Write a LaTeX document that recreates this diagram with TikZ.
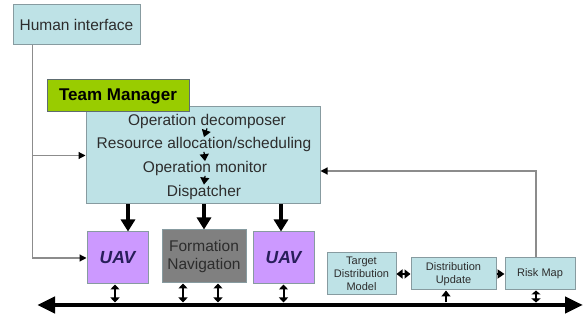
\documentclass[tikz,border=0pt]{standalone}
\usepackage{fontspec}
\setmainfont{Liberation Sans}
\usetikzlibrary{positioning, arrows.meta}
\definecolor{boxcyan}{RGB}{190,226,230}
\definecolor{boxedge}{RGB}{135,155,160}
\definecolor{tmgreen}{RGB}{153,204,0}
\definecolor{uavviolet}{RGB}{204,153,255}
\definecolor{fngray}{RGB}{128,128,128}
\definecolor{textgray}{RGB}{45,45,45}
\definecolor{uavtext}{RGB}{40,30,90}
\definecolor{wiregray}{RGB}{140,140,140}
\tikzset{
    box/.style={draw=boxedge, line width=1pt, fill=boxcyan, text=textgray, align=center, inner sep=0pt}, % plain cyan blocks
    tmbox/.style={draw=boxedge!70!black, line width=1pt, fill=tmgreen, inner sep=0pt,
        minimum width=142pt, minimum height=32pt, font=\fontsize{17}{20}\selectfont\bfseries},
    uavbox/.style={box, fill=uavviolet, text=uavtext, minimum width=61pt, minimum height=52pt,
        font=\fontsize{17.5}{20}\selectfont\bfseries\itshape},
    stepline/.style={inner sep=0pt, text=textgray, font=\fontsize{15.5}{18}\selectfont}, % lines in the manager
    small/.style={font=\fontsize{11}{13}\selectfont},
    feed/.style={draw=wiregray, line width=1.2pt, -{Triangle[length=7pt,width=7pt,color=black]}},
    inner/.style={line width=1.2pt, -{Triangle[length=7pt,width=9pt]}},
    down/.style={line width=4pt, -{Triangle[length=12pt,width=14pt]}},
    buslink/.style={line width=2pt, {Triangle[length=5pt,width=9pt]}-{Triangle[length=5pt,width=9pt]}, shorten >=2.5pt},
    busup/.style={line width=2pt, -{Triangle[length=6pt,width=9pt]}, shorten <=2.5pt},
}
\begin{document}
\begin{tikzpicture}[x=1pt, y=-1pt]
\useasboundingbox (0,0) rectangle (584,320);

% top and manager
\node[box, minimum width=127pt, minimum height=40pt, font=\fontsize{15.5}{18}\selectfont] (hi) at (76.5,25) {Human interface};
\node[box, minimum width=234pt, minimum height=97pt] (main) at (203,155.5) {};
\node[tmbox] (tm) at (118,96) {Team Manager};

\node[stepline] (decomp) at (207,121) {Operation decomposer};
\node[stepline] (alloc) at (204,144.5) {Resource allocation/scheduling};
\node[stepline] (monitor) at (205,168.5) {Operation monitor};
\node[stepline] (dispatch) at (204,192) {Dispatcher};
\draw[inner] (decomp.south) -- (alloc.north);
\draw[inner] (alloc.south) -- (monitor.north);
\draw[inner] (monitor.south) -- (dispatch.north);

% vehicles
\node[uavbox] (uav1) at (117.5,258) {UAV};
\node[box, fill=fngray, minimum width=84pt, minimum height=53pt, font=\fontsize{15.5}{18.5}\selectfont] (fn) at (204,256.5) {Formation\\Navigation};
\node[uavbox] (uav2) at (283.5,258) {UAV};

\draw[down] ([xshift=10.5pt]uav1.north |- main.south) -- ([xshift=10.5pt]uav1.north);
\draw[down] (fn.north |- main.south) -- (fn.north);
\draw[down] ([xshift=-2.5pt]uav2.north |- main.south) -- ([xshift=-2.5pt]uav2.north);

% maps
\node[box, small, minimum width=69pt, minimum height=42pt] (tdm) at (361.5,274) {Target\\Distribution\\Model};
\node[box, small, minimum width=85pt, minimum height=32pt, right=14pt of tdm] (du) {Distribution\\Update};
\node[box, small, minimum width=70pt, minimum height=32pt, right=8pt of du] (rm) {Risk Map};
\draw[line width=2pt, {Triangle[length=6pt,width=9pt]}-{Triangle[length=6pt,width=9pt]}] (tdm) -- (du);
\draw[line width=2pt, -{Triangle[length=7pt,width=9pt]}] (du) -- (rm);

% wires
\coordinate (tap) at ([xshift=20pt]hi.south west);
\draw[feed] (tap) |- (uav1.west);
\draw[feed] (tap |- main.west) -- (main.west);
\draw[feed] ([xshift=-4pt]rm.north) |- ([yshift=-15.5pt]main.east);

% bus
\coordinate (busL) at (37,305);
\coordinate (busR) at (583,305);
\draw[line width=4.5pt, {Triangle[length=18pt,width=16pt]}-{Triangle[length=18pt,width=16pt]}] (busL) -- (busR);

\draw[buslink] ([xshift=-2.5pt]uav1.south) -- ([xshift=-2.5pt]uav1.south |- busL);
\draw[buslink] ([xshift=-21pt]fn.south) -- ([xshift=-21pt]fn.south |- busL);
\draw[buslink] ([xshift=14pt]fn.south) -- ([xshift=14pt]fn.south |- busL);
\draw[buslink] (uav2.south) -- (uav2.south |- busL);
\draw[busup] ([xshift=-7.5pt]du.south |- busL) -- ([xshift=-7.5pt]du.south);
\draw[buslink, {Triangle[length=4pt,width=9pt]}-{Triangle[length=4pt,width=9pt]}] ([xshift=-4pt]rm.south) -- ([xshift=-4pt]rm.south |- busL);
\end{tikzpicture}
\end{document}
